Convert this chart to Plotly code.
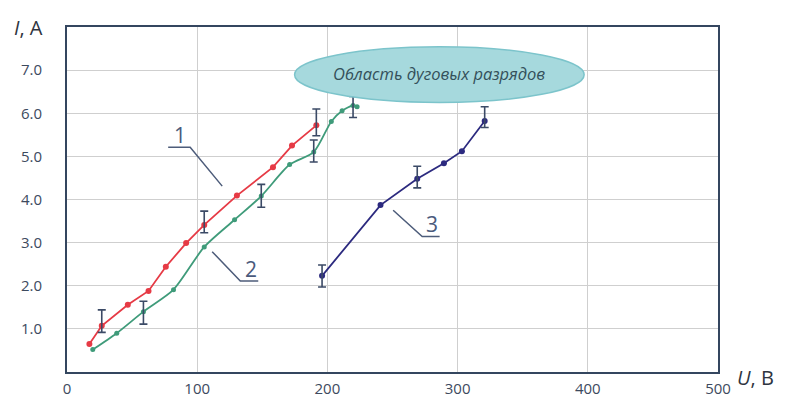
import plotly.graph_objects as go

# Current–voltage characteristics, three discharge regimes
u1 = [17.2, 26.7, 46.7, 62.6, 75.9, 91.5, 105.4, 130.5, 158.2, 172.8, 191.5]
i1 = [0.65, 1.07, 1.56, 1.88, 2.44, 2.99, 3.41, 4.09, 4.75, 5.25, 5.72]

u2 = [19.8, 38.2, 58.7, 81.8, 105.4, 128.7, 149.2, 171.0, 189.5, 203.0, 211.3, 219.7, 222.8]
i2 = [0.52, 0.90, 1.40, 1.91, 2.90, 3.53, 4.08, 4.81, 5.10, 5.81, 6.06, 6.18, 6.15]

u3 = [195.9, 240.8, 269.0, 289.5, 303.3, 320.8]
i3 = [2.23, 3.87, 4.48, 4.84, 5.12, 5.82]

# Measurement spread: (U, I centre, +err, -err)
err_u = [26.7, 105.4, 191.5, 58.7, 149.2, 189.5, 219.7, 195.9, 269.0, 320.8]
err_i = [1.07, 3.41, 5.72, 1.40, 4.08, 5.10, 6.18, 2.23, 4.48, 5.82]
err_plus = [0.37, 0.32, 0.38, 0.24, 0.27, 0.28, 0.21, 0.25, 0.29, 0.33]
err_minus = [0.15, 0.18, 0.24, 0.29, 0.26, 0.23, 0.28, 0.26, 0.21, 0.15]

x_ticks = [0, 100, 200, 300, 400, 500]
y_ticks = [1, 2, 3, 4, 5, 6, 7]
y_tick_text = ["1.0", "2.0", "3.0", "4.0", "5.0", "6.0", "7.0"]

region_label = "Область дуговых разрядов"

FONT = "Open Sans"
TEXT = "#3d4a5e"
FRAME = "#34465f"
LEADER = "#4d5c7a"

fig = go.Figure()

fig.add_trace(go.Scatter(x=u1, y=i1, mode="lines+markers",
                         line=dict(color="#e63a45", width=1.8),
                         marker=dict(color="#e63a45", size=6)))
fig.add_trace(go.Scatter(x=u2, y=i2, mode="lines+markers",
                         line=dict(color="#3f9b7a", width=1.8, shape="spline", smoothing=0.7),
                         marker=dict(color="#3f9b7a", size=5)))
fig.add_trace(go.Scatter(x=u3, y=i3, mode="lines+markers",
                         line=dict(color="#2c2a7f", width=1.8),
                         marker=dict(color="#2c2a7f", size=6)))

fig.add_trace(go.Scatter(x=err_u, y=err_i, mode="markers",
                         marker=dict(size=1, opacity=0),
                         error_y=dict(type="data", symmetric=False,
                                      array=err_plus, arrayminus=err_minus,
                                      color="#3b4a66", thickness=1.6, width=4)))

# Arc-discharge region
fig.add_shape(type="circle", xref="x", yref="y",
              x0=174.8, x1=397.2, y0=6.25, y1=7.54,
              fillcolor="#a6d9dd", line=dict(color="#7cc4cb", width=1.5),
              layer="above")
fig.add_annotation(x=286, y=6.92, xref="x", yref="y", text="<i>" + region_label + "</i>",
                   showarrow=False, font=dict(family=FONT, size=16.5, color="#34505a"))

# Curve numbers with leader lines
labels = [
    ("1", 86.5, 5.5, [(77.7, 5.21), (94.6, 5.21), (119.2, 4.31)]),
    ("2", 141.5, 2.4, [(111.5, 2.79), (133.1, 2.11), (146.9, 2.11)]),
    ("3", 280.5, 3.43, [(250.5, 3.75), (272.8, 3.14), (286.2, 3.14)]),
]
for txt, lx, ly, pts in labels:
    path = "M " + " L ".join(f"{px},{py}" for px, py in pts)
    fig.add_shape(type="path", xref="x", yref="y", path=path,
                  line=dict(color=LEADER, width=1.5))
    fig.add_annotation(x=lx, y=ly, xref="x", yref="y", text=txt, showarrow=False,
                       font=dict(family=FONT, size=21, color="#4a5a7c"))

# Axis titles
fig.add_annotation(x=-0.085, y=1.0, xref="paper", yref="paper", text="<i>I</i>, A",
                   showarrow=False, xanchor="left", yanchor="middle",
                   font=dict(family=FONT, size=20, color="#2e3440"))
fig.add_annotation(x=1.026, y=-0.015, xref="paper", yref="paper", text="<i>U</i>, B",
                   showarrow=False, xanchor="left", yanchor="middle",
                   font=dict(family=FONT, size=20, color="#2e3440"))

fig.update_layout(
    width=806, height=398,
    margin=dict(l=67, r=88, t=27, b=26),
    paper_bgcolor="white", plot_bgcolor="white",
    showlegend=False,
    font=dict(family=FONT, size=15, color=TEXT),
)
fig.update_xaxes(range=[0, 500], tickvals=x_ticks, showgrid=True, gridcolor="#cfcfcf",
                 gridwidth=1, zeroline=False, showline=True, linecolor=FRAME, linewidth=2,
                 mirror=True, ticks="outside", ticklen=2, tickcolor="rgba(0,0,0,0)",
                 automargin=False, tickfont=dict(family=FONT, size=15, color=TEXT))
fig.update_yaxes(range=[0, 8], tickvals=y_ticks, ticktext=y_tick_text, showgrid=True,
                 gridcolor="#cfcfcf", gridwidth=1, zeroline=False, showline=True,
                 linecolor=FRAME, linewidth=2, mirror=True, ticks="outside", ticklen=20,
                 automargin=False, tickcolor="rgba(0,0,0,0)",
                 tickfont=dict(family=FONT, size=15, color=TEXT))

fig.write_html("out.html")
